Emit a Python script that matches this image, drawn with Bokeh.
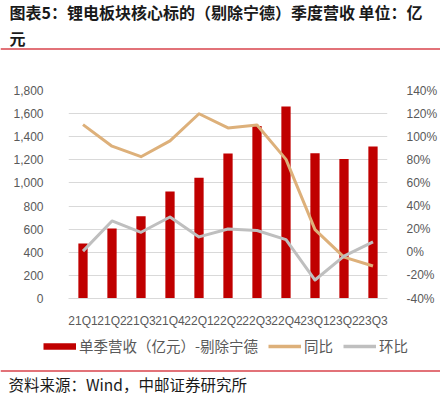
import numpy as np
from bokeh.plotting import figure
from bokeh.layouts import column
from bokeh.models import (ColumnDataSource, Range1d, LinearAxis, FixedTicker, Label,
                          Span, Legend, LegendItem, NumeralTickFormatter,
                          PrintfTickFormatter, FactorRange)
from bokeh.embed import file_html
from bokeh.resources import INLINE

quarters = ["21Q1", "21Q2", "21Q3", "21Q4", "22Q1", "22Q2", "22Q3", "22Q4", "23Q1", "23Q2", "23Q3"]
revenue = [476, 605, 711, 926, 1046, 1255, 1493, 1662, 1258, 1207, 1316]
yoy = [110.5, 91.8, 82.7, 96.4, 119.9, 107.6, 110.2, 80.4, 19.6, -4.2, -11.9]
qoq = [1.0, 27.1, 17.3, 30.5, 13.3, 20.2, 18.8, 11.0, -24.0, -3.3, 9.0]
left_ticks = [0, 200, 400, 600, 800, 1000, 1200, 1400, 1600, 1800]
right_ticks = [-40, -20, 0, 20, 40, 60, 80, 100, 120, 140]

title_line1 = "图表5：锂电板块核心标的（剔除宁德）季度营收 单位：亿"
title_line2 = "元"
source_text = "资料来源：Wind，中邮证券研究所"
legend_labels = ["单季营收（亿元）-剔除宁德", "同比", "环比"]

RED = "#C00000"
TAN = "#DDB07A"
GRAY = "#BFBFBF"
TXT = "#595959"
RULE = "#D9434B"
CJK = "Noto Sans CJK SC"
W = 440


def blank_fig(h):
    f = figure(width=W, height=h, x_range=Range1d(0, W), y_range=Range1d(h, 0),
               output_backend="svg", toolbar_location=None,
               x_axis_type=None, y_axis_type=None,
               min_border_left=0, min_border_right=0, min_border_top=0, min_border_bottom=0)
    f.outline_line_color = None
    f.xgrid.visible = False
    f.ygrid.visible = False
    if "frame_align" in f.properties():
        f.frame_align = False
    return f


# ---------- title ----------
TH = 52
tf = blank_fig(TH)
for txt, yy in ((title_line1, 11), (title_line2, 37)):
    tf.add_layout(Label(x=9, y=yy, text=txt, text_baseline="middle", text_font=CJK,
                        text_font_style="bold", text_font_size="16px", text_color="#1A1A1A"))
tf.add_layout(Span(location=48.5, dimension="width", line_color=RULE, line_width=1.5))

# ---------- main chart ----------
src = ColumnDataSource(dict(q=quarters, rev=revenue, yoy=yoy, qoq=qoq))

p = figure(width=W, height=278, x_range=FactorRange(*quarters), y_range=Range1d(0, 1800),
           output_backend="svg", toolbar_location=None,
           min_border_left=68, min_border_right=50, min_border_top=38, min_border_bottom=31)
p.outline_line_color = None
p.extra_y_ranges = {"pct": Range1d(-40, 140)}
if "frame_align" in p.properties():
    p.frame_align = False

p.vbar(x="q", top="rev", width=0.32, source=src, fill_color=RED, line_color=None)
r_yoy = p.line(x="q", y="yoy", source=src, y_range_name="pct", line_color=TAN, line_width=3,
               line_join="round")
r_qoq = p.line(x="q", y="qoq", source=src, y_range_name="pct", line_color=GRAY, line_width=3,
               line_join="round")

p.yaxis.ticker = FixedTicker(ticks=left_ticks)
p.yaxis.formatter = NumeralTickFormatter(format="0,0")
p.yaxis.axis_line_color = None
p.yaxis.major_tick_line_color = None
p.yaxis.minor_tick_line_color = None
p.yaxis.major_label_standoff = 19
p.yaxis.major_label_text_font = "Liberation Sans"
p.yaxis.major_label_text_font_size = "12px"
p.yaxis.major_label_text_color = TXT

ax_r = LinearAxis(y_range_name="pct", ticker=FixedTicker(ticks=right_ticks),
                  formatter=PrintfTickFormatter(format="%d%%"))
ax_r.axis_line_color = None
ax_r.major_tick_line_color = None
ax_r.minor_tick_line_color = None
ax_r.major_label_standoff = 13
ax_r.major_label_text_font = "Liberation Sans"
ax_r.major_label_text_font_size = "12px"
ax_r.major_label_text_color = TXT
p.add_layout(ax_r, "right")

p.xaxis.axis_line_color = "#D9D9D9"
p.xaxis.major_tick_line_color = None
p.xaxis.minor_tick_line_color = None
p.xaxis.major_label_standoff = 9
p.xaxis.major_label_text_font = "Liberation Sans"
p.xaxis.major_label_text_font_size = "12px"
p.xaxis.major_label_text_color = TXT

p.xgrid.grid_line_color = None
p.ygrid.grid_line_color = "#D9D9D9"
p.ygrid.grid_line_width = 1

# ---------- footer: legend, rule, source ----------
FH = 69
ff = blank_fig(FH)
nan = np.array([np.nan])
lg_bar = ff.line(x=nan, y=nan, line_color=RED, line_width=6.5)
lg_yoy = ff.line(x=nan, y=nan, line_color=TAN, line_width=3.5)
lg_qoq = ff.line(x=nan, y=nan, line_color=GRAY, line_width=3.5)
for rend, lab, gx in ((lg_bar, legend_labels[0], 43), (lg_yoy, legend_labels[1], 268),
                      (lg_qoq, legend_labels[2], 343)):
    lgd = Legend(items=[LegendItem(label=lab, renderers=[rend])], location=(gx, FH - 26))
    lgd.padding = 0
    lgd.margin = 0
    lgd.spacing = 0
    lgd.label_standoff = 3
    lgd.glyph_width = 33
    lgd.glyph_height = 16
    lgd.label_height = 16
    lgd.label_text_font = CJK
    lgd.label_text_font_size = "14.5px"
    lgd.label_text_color = TXT
    lgd.label_text_baseline = "middle"
    lgd.background_fill_alpha = 0
    lgd.border_line_alpha = 0
    ff.add_layout(lgd)
ff.add_layout(Span(location=40.5, dimension="width", line_color=RULE, line_width=1.5))
ff.add_layout(Label(x=8, y=53, text=source_text, text_baseline="middle", text_font=CJK,
                    text_font_size="15.5px", text_color="#1A1A1A"))

layout = column(tf, p, ff, spacing=0)
open("out.html", "w").write(file_html(layout, INLINE))
